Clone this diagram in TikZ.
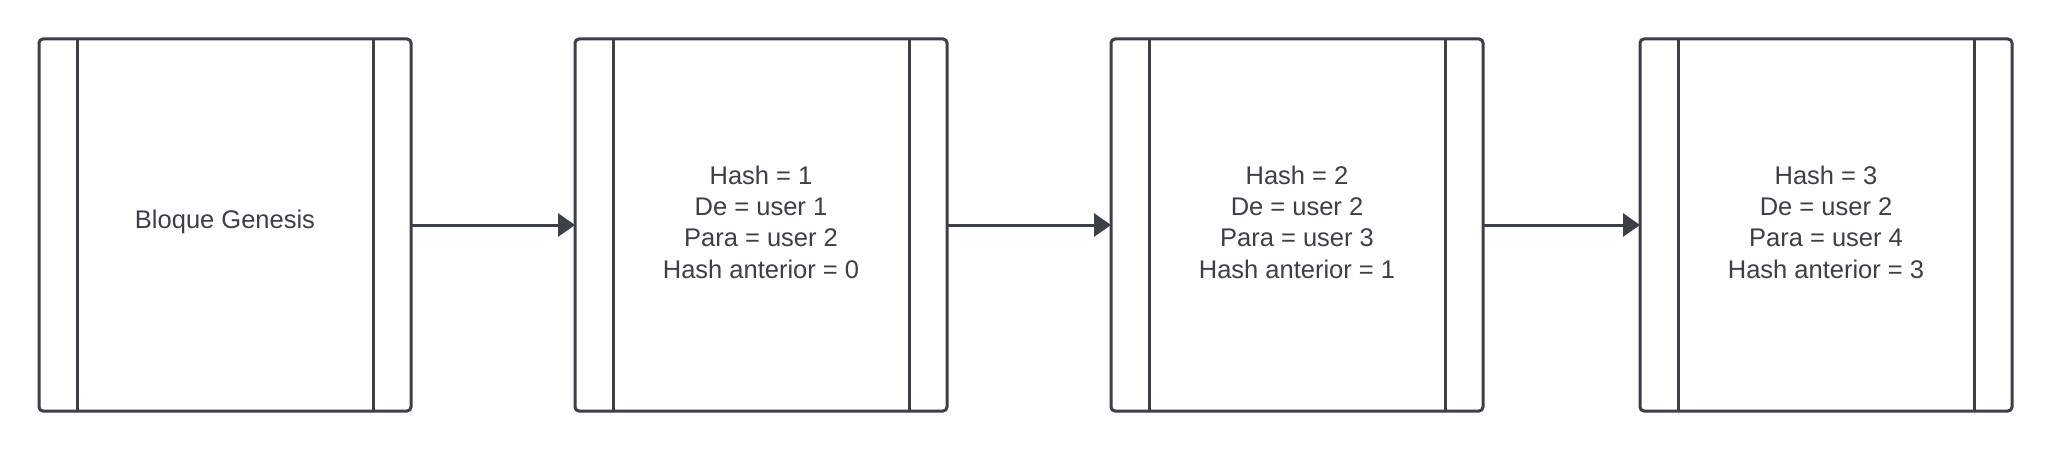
\documentclass[tikz,border=0pt]{standalone}
\usepackage{fontspec}
\setmainfont{Liberation Sans}
\usetikzlibrary{arrows.meta}
\definecolor{ink}{HTML}{3A3F48}
\begin{document}
\begin{tikzpicture}[x=1pt,y=-1pt,
  blockbox/.style={draw=ink, line width=3pt, rounded corners=4pt, outer sep=0pt,
    minimum width=372pt, minimum height=372pt, inner sep=0pt},
  blocktext/.style={font=\fontsize{25.5}{31.4}\selectfont, text=ink, align=center, inner sep=0pt},
  sideline/.style={draw=ink, line width=3pt},
  link/.style={draw=ink, line width=3pt, -{Triangle[length=17pt,width=23pt]}}]
\useasboundingbox (0,0) rectangle (2052,452);
\fill[white] (0,0) rectangle (2052,452);
\node[blockbox] (b1) at (225,225) {};
\node[blockbox] (b2) at (761,225) {};
\node[blockbox] (b3) at (1297,225) {};
\node[blockbox] (b4) at (1826,225) {};
\node[blocktext] (t1) at ([yshift=3pt]b1.center) {Bloque Genesis};
\node[blocktext] (t2) at ([yshift=3pt]b2.center) {Hash = 1\\De = user 1\\Para = user 2\\Hash anterior = 0};
\node[blocktext] (t3) at ([yshift=3pt]b3.center) {Hash = 2\\De = user 2\\Para = user 3\\Hash anterior = 1};
\node[blocktext] (t4) at ([yshift=3pt]b4.center) {Hash = 3\\De = user 2\\Para = user 4\\Hash anterior = 3};
\foreach \b in {b1,b2,b3,b4}{
  \draw[sideline] ([xshift=38pt]\b.north west) -- ([xshift=38pt]\b.south west);
  \draw[sideline] ([xshift=-38pt]\b.north east) -- ([xshift=-38pt]\b.south east);
}
\draw[link] (b1.east) -- (b2.west);
\draw[link] (b2.east) -- (b3.west);
\draw[link] (b3.east) -- (b4.west);
\end{tikzpicture}
\end{document}
